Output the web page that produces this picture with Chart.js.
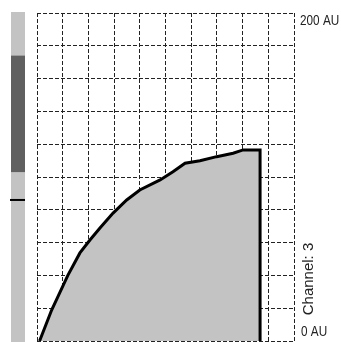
<!DOCTYPE html>
<html>
<head>
<meta charset="utf-8">
<script src="https://cdn.jsdelivr.net/npm/chart.js@4/dist/chart.umd.min.js"></script>
<style>
html,body{margin:0;padding:0;background:#fff;}
#wrap{width:341px;height:342px;position:relative;}
</style>
</head>
<body>
<div id="wrap"><canvas id="c" width="341" height="342"></canvas></div>
<script>
// time positions (grid units 0..10)
const timeValues = [0.1, 0.57, 1.2, 1.67, 2.06, 2.45, 2.96, 3.49, 4.0, 4.79, 5.29, 5.76, 6.34, 6.99, 7.63, 8.02, 8.68, 8.68];
// signal values in AU
const signalValues = [0, 18.9, 40.0, 53.7, 61.6, 68.9, 78.0, 86.0, 92.1, 98.2, 103.2, 108.4, 109.9, 112.4, 114.5, 116.5, 116.5, 0];
// y-axis labels
const yLabelTop = "200 AU";
const yLabelBottom = "0 AU";
const channelLabel = "Channel: 3";
// left level indicator (AU)
const indicatorRange = [0, 200];
const indicatorHighlight = [103, 174];
const indicatorMarker = [86];

const points = timeValues.map((t, i) => ({x: t, y: signalValues[i]}));

const overlay = {
  id: 'overlay',
  afterDraw(chart) {
    const ctx = chart.ctx;
    const y = chart.scales.y;
    ctx.save();
    // indicator
    ctx.fillStyle = '#c3c3c3';
    const t0 = y.getPixelForValue(indicatorRange[1]) - 1;
    const b0 = y.getPixelForValue(indicatorRange[0]) + 2;
    ctx.fillRect(11, t0, 14, b0 - t0);
    ctx.fillStyle = '#606060';
    const t1 = y.getPixelForValue(indicatorHighlight[1]);
    const b1 = y.getPixelForValue(indicatorHighlight[0]);
    ctx.fillRect(11, t1, 14, b1 - t1);
    ctx.fillStyle = '#000';
    indicatorMarker.forEach(v => {
      const p = y.getPixelForValue(v);
      ctx.fillRect(10, p - 1, 15, 2);
    });
    // labels
    ctx.fillStyle = '#222';
    ctx.font = '14px "Liberation Sans", Arial, sans-serif';
    ctx.textAlign = 'left';
    ctx.save();
    ctx.translate(300, y.getPixelForValue(200) + 1);
    ctx.scale(0.84, 1);
    ctx.textBaseline = 'top';
    ctx.fillText(yLabelTop, 0, 0);
    ctx.restore();
    ctx.save();
    ctx.translate(301, y.getPixelForValue(0) - 2);
    ctx.scale(0.84, 1);
    ctx.textBaseline = 'bottom';
    ctx.fillText(yLabelBottom, 0, 0);
    ctx.restore();
    ctx.save();
    ctx.translate(309, 279);
    ctx.rotate(-Math.PI / 2);
    ctx.font = '15px "Liberation Sans", Arial, sans-serif';
    ctx.textAlign = 'center';
    ctx.textBaseline = 'middle';
    ctx.fillText(channelLabel, 0, 0);
    ctx.restore();
    ctx.restore();
  }
};

new Chart(document.getElementById('c'), {
  type: 'line',
  data: {
    datasets: [{
      data: points,
      borderColor: '#000',
      borderWidth: 3,
      backgroundColor: '#c3c3c3',
      fill: 'origin',
      pointRadius: 0,
      tension: 0,
      borderJoinStyle: 'miter'
    }]
  },
  options: {
    responsive: false,
    animation: false,
    layout: {padding: {left: 37, right: 47, top: 13, bottom: 1}},
    plugins: {legend: {display: false}, tooltip: {enabled: false}},
    scales: {
      x: {
        type: 'linear', min: 0, max: 10,
        ticks: {display: false, stepSize: 1},
        grid: {color: '#222', lineWidth: 1, drawTicks: false},
        border: {display: false, dash: [4, 2]}
      },
      y: {
        type: 'linear', min: 0, max: 200,
        ticks: {display: false, stepSize: 20},
        grid: {color: '#222', lineWidth: 1, drawTicks: false},
        border: {display: false, dash: [4, 2]}
      }
    }
  },
  plugins: [overlay]
});
</script>
</body>
</html>
